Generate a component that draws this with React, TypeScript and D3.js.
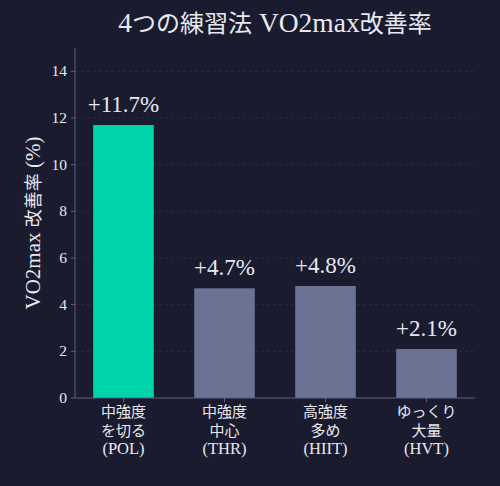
import React from "react";
import * as d3 from "d3";

const categories = ["中強度\nを切る\n(POL)", "中強度\n中心\n(THR)", "高強度\n多め\n(HIIT)", "ゆっくり\n大量\n(HVT)"];
const improvements = [11.7, 4.7, 4.8, 2.1];
const highlight = [true, false, false, false];
const yTicks = [0, 2, 4, 6, 8, 10, 12, 14];

const W = 500;
const H = 486;
const margin = { left: 75, right: 25, top: 48, bottom: 88 };
const FONT = "'Liberation Serif', 'Noto Sans CJK JP', serif";
const BG = "#1a1b2e";
const TEXT = "#e8e8ee";
const SPINE = "#5d6080";

const CJK = /[\u3000-\u30ff\u4e00-\u9fff]/;

// Splits a string into Latin / CJK runs so each can get its own size.
function MixedText({ text, latin, cjk }: { text: string; latin: number; cjk: number }) {
  const runs: { s: string; c: boolean }[] = [];
  for (const ch of text) {
    const c = CJK.test(ch);
    const last = runs[runs.length - 1];
    if (last && last.c === c) last.s += ch;
    else runs.push({ s: ch, c });
  }
  return (
    <>
      {runs.map((r, i) => (
        <tspan key={i} fontSize={r.c ? cjk : latin}>
          {r.s}
        </tspan>
      ))}
    </>
  );
}

export default function App() {
  const x = d3.scaleLinear().domain([-0.48, 3.48]).range([margin.left, W - margin.right]);
  const y = d3.scaleLinear().domain([0, 15]).range([H - margin.bottom, margin.top]);
  const bw = x(0.6) - x(0);
  const y0 = y(0);

  return (
    <svg width={W} height={H} style={{ display: "block", position: "absolute", left: 0, top: 0, background: BG }} fontFamily={FONT}>
      <rect width={W} height={H} fill={BG} />
      <text x={(x.range()[0] + x.range()[1]) / 2} y={32} textAnchor="middle" fill={TEXT}>
        <MixedText text="4つの練習法 VO2max改善率" latin={27.5} cjk={24} />
      </text>
      {yTicks.map((t) => (
        <g key={t}>
          {t > 0 && (
            <line x1={margin.left} x2={W - margin.right} y1={y(t)} y2={y(t)} stroke="#2f3152" strokeDasharray="3,3" strokeWidth={0.8} />
          )}
          <line x1={margin.left - 4} x2={margin.left} y1={y(t)} y2={y(t)} stroke={SPINE} />
          <text x={margin.left - 8} y={y(t) + 5} textAnchor="end" fontSize={15.5} fill={TEXT}>
            {t}
          </text>
        </g>
      ))}
      {improvements.map((v, i) => (
        <g key={i}>
          <rect x={x(i) - bw / 2} y={y(v)} width={bw} height={y0 - y(v)} fill={highlight[i] ? "#00d4aa" : "#6b7394"} />
          <text x={x(i)} y={y(v) - 13} textAnchor="middle" fontSize={23} fill={TEXT}>
            {`+${v.toFixed(1)}%`}
          </text>
          <line x1={x(i)} x2={x(i)} y1={y0} y2={y0 + 4} stroke={SPINE} />
          {categories[i].split("\n").map((line, j) => (
            <text key={j} x={x(i)} y={y0 + 19 + j * 18.5} textAnchor="middle" fill={TEXT}>
              <MixedText text={line} latin={16.5} cjk={15} />
            </text>
          ))}
        </g>
      ))}
      <line x1={margin.left} x2={margin.left} y1={margin.top} y2={y0} stroke={SPINE} />
      <line x1={margin.left} x2={W - margin.right} y1={y0} y2={y0} stroke={SPINE} />
      <text transform={`translate(40, ${(margin.top + y0) / 2}) rotate(-90)`} textAnchor="middle" fill={TEXT}>
        <MixedText text="VO2max 改善率 (%)" latin={21} cjk={18} />
      </text>
    </svg>
  );
}
